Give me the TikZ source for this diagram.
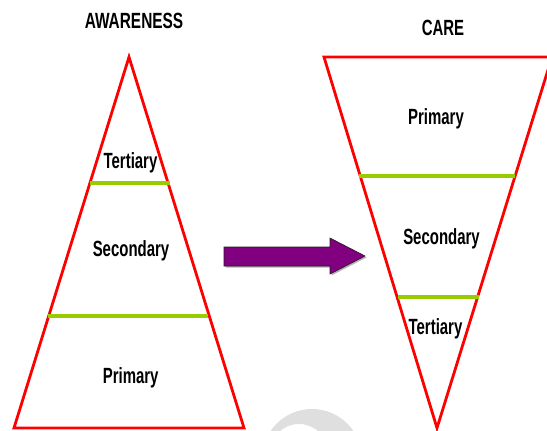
\documentclass[tikz,border=0pt]{standalone}
\usepackage{fontspec}
\setmainfont{Liberation Sans}
\begin{document}
\begin{tikzpicture}[x=1pt,y=-1pt,
  lbl/.style={font=\fontsize{22}{24}\selectfont\bfseries, xscale=0.68, anchor=base, inner sep=0pt},
  redline/.style={draw={rgb,255:red,255;green,0;blue,0}, line width=2.8pt, line join=miter},
  greenline/.style={draw={rgb,255:red,153;green,204;blue,0}, line width=3.2pt},
  arrowfill/.style={fill={rgb,255:red,128;green,0;blue,128}, draw={rgb,255:red,40;green,20;blue,40}, line width=0.6pt}]
\useasboundingbox (0,0) rectangle (547,431);
% watermark ring
\fill[gray!25, even odd rule] (312,459) circle (50) (299,453) circle (29);
% left pyramid
\draw[redline] (129,57) -- (244,428) -- (14,428) -- cycle;
\draw[greenline] (90,183) -- (170,183);
\draw[greenline] (48,316) -- (208,316);
% right inverted pyramid
\draw[redline] (324,57) -- (437,428) -- (552,57) -- cycle;
\draw[greenline] (359,176) -- (515,176);
\draw[greenline] (398,297) -- (479,297);
% arrow
\fill[gray!60] (225.5,248.5) -- (331.5,248.5) -- (331.5,239.5) -- (366.5,257.5) -- (331.5,275.5) -- (331.5,267.5) -- (225.5,267.5) -- cycle;
\draw[arrowfill] (224,247) -- (330,247) -- (330,238) -- (365,256) -- (330,274) -- (330,266) -- (224,266) -- cycle;
% labels
\node[lbl, xscale=1.03] (aw) at (134,28) {AWARENESS};
\node[lbl] (care) at (443,35) {CARE};
\node[lbl] (lt) at (130.5,168) {Tertiary};
\node[lbl] (ls) at (131,256) {Secondary};
\node[lbl] (lp) at (130.7,383) {Primary};
\node[lbl] (rp) at (436,124) {Primary};
\node[lbl] (rs) at (441.5,244) {Secondary};
\node[lbl] (rt) at (435.5,334) {Tertiary};
\end{tikzpicture}
\end{document}
